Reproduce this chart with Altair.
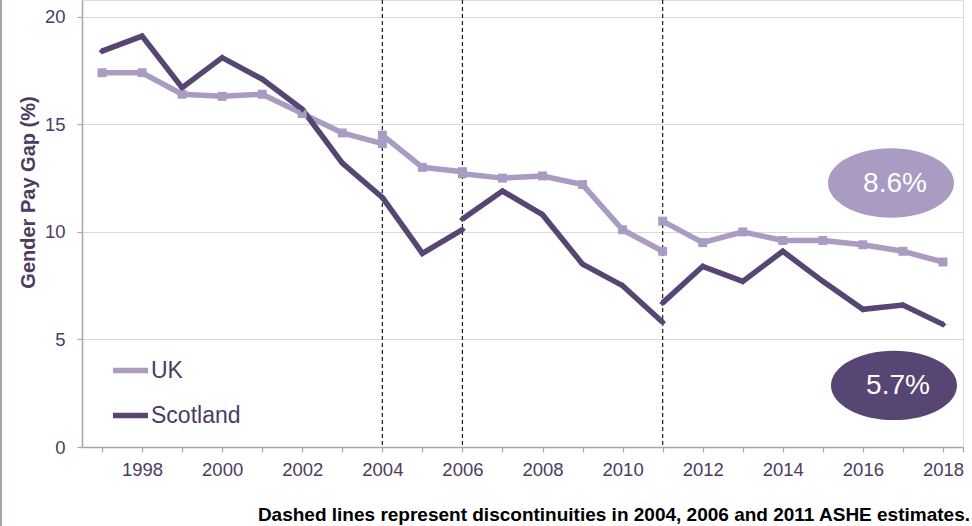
import altair as alt
import pandas as pd

# Median full-time gender pay gap (%), UK vs Scotland
years = list(range(1997, 2019))

uk = [17.4, 17.4, 16.4, 16.3, 16.4, 15.5, 14.6, 14.5, 13.0, 12.7,
      12.5, 12.6, 12.2, 10.1, 10.5, 9.5, 10.0, 9.6, 9.6, 9.4, 9.1, 8.6]
scotland = [18.4, 19.1, 16.7, 18.1, 17.1, 15.7, 13.2, 11.6, 9.0, 10.6,
            11.9, 10.8, 8.5, 7.5, 6.7, 8.4, 7.7, 9.1, 7.7, 6.4, 6.6, 5.7]

# Values on the old basis in the years where the ASHE series breaks
break_years = [2004, 2006, 2011]
uk_before_break = [14.1, 12.8, 9.1]
scotland_before_break = [11.6, 10.1, 5.8]

series_names = ["UK", "Scotland"]
series_colors = ["#a99bc1", "#574573"]
text_color = "#4b3c62"
axis_grey = "#a6a6a6"
note_text = "Dashed lines represent discontinuities in 2004, 2006 and 2011 ASHE estimates."
FONT = "Liberation Sans"


def build_rows(name, values, before):
    rows = []
    segment = 0
    old = dict(zip(break_years, before))
    for yr, val in zip(years, values):
        if yr in old:
            rows.append({"series": name, "year": yr, "gap": old[yr], "segment": segment})
            segment += 1
        rows.append({"series": name, "year": yr, "gap": val, "segment": segment})
    return rows


df = pd.DataFrame(build_rows("UK", uk, uk_before_break)
                  + build_rows("Scotland", scotland, scotland_before_break))
df["key"] = df["series"] + "-" + df["segment"].astype(str)

breaks_df = pd.DataFrame({"year": break_years})
last_df = pd.DataFrame({
    "series": series_names,
    "year": [years[-1], years[-1]],
    "gap": [uk[-1], scotland[-1]],
})
last_df["label"] = last_df["gap"].map(lambda v: f"{v}%")

x_scale = alt.Scale(domain=[1996.5, 2018.5], nice=False, zero=False)
y_scale = alt.Scale(domain=[0, 20.78], nice=False, zero=True)
color_scale = alt.Scale(domain=series_names, range=series_colors)

x_axis = alt.Axis(
    values=years + [2018.5],
    labelExpr="datum.value % 2 == 0 ? datum.value : ''",
    title=None, grid=False,
    domainColor=axis_grey, domainWidth=1.5,
    tickColor=axis_grey, tickSize=5, tickWidth=1.2,
    labelFont=FONT, labelFontSize=18.5, labelColor=text_color, labelPadding=8,
    labelOverlap=False, labelFlush=False,
)
y_axis = alt.Axis(
    values=[0, 5, 10, 15, 20],
    title="Gender Pay Gap (%)",
    titleFont=FONT, titleFontSize=20, titleFontWeight="bold", titleColor=text_color,
    titleAngle=270, titleX=-54, titleY=192, titleAlign="center", titleBaseline="middle",
    grid=True, gridColor="#d9d9d9", gridWidth=1.2,
    domainColor=axis_grey, domainWidth=1.5,
    tickColor=axis_grey, tickSize=5, tickWidth=1.2,
    labelFont=FONT, labelFontSize=18.5, labelColor=text_color, labelPadding=12,
)

base = alt.Chart(df)

lines = base.mark_line(strokeWidth=5.5, strokeJoin="miter").encode(
    x=alt.X("year:Q", scale=x_scale, axis=x_axis),
    y=alt.Y("gap:Q", scale=y_scale, axis=y_axis),
    color=alt.Color(
        "series:N", scale=color_scale,
        legend=alt.Legend(
            title=None, orient="none", legendX=28, legendY=350,
            direction="vertical", symbolType="stroke", symbolStrokeWidth=5.5,
            symbolSize=1225, labelFont=FONT, labelFontSize=23,
            labelColor=text_color, rowPadding=12, labelOffset=0, padding=0,
        ),
    ),
    detail="key:N",
    order="year:Q",
)

uk_points = base.transform_filter(alt.datum.series == "UK").mark_point(
    shape="square", filled=True, size=80, opacity=1
).encode(
    x=alt.X("year:Q", scale=x_scale),
    y=alt.Y("gap:Q", scale=y_scale),
    color=alt.Color("series:N", scale=color_scale, legend=None),
)

scot_points = base.transform_filter(alt.datum.series == "Scotland").mark_point(
    shape="diamond", filled=True, size=45, opacity=1
).encode(
    x=alt.X("year:Q", scale=x_scale),
    y=alt.Y("gap:Q", scale=y_scale),
    color=alt.Color("series:N", scale=color_scale, legend=None),
)

dashed = alt.Chart(breaks_df).mark_rule(
    color="#1a1a1a", strokeWidth=1.2, strokeDash=[4, 3]
).encode(x=alt.X("year:Q", scale=x_scale))

# Ellipse call-outs holding the latest values
ellipse_path = ("M 1 0 C 1 0.3038 0.5523 0.55 0 0.55 C -0.5523 0.55 -1 0.3038 -1 0 "
                "C -1 -0.3038 -0.5523 -0.55 0 -0.55 C 0.5523 -0.55 1 -0.3038 1 0 Z")
offsets = {"UK": (-52, -79), "Scotland": (-49, 61)}

callouts = []
for name in series_names:
    dx, dy = offsets[name]
    sub = alt.Chart(last_df).transform_filter(alt.datum.series == name)
    callouts.append(sub.mark_point(
        shape=ellipse_path, filled=True, size=15876, opacity=1,
        xOffset=dx, yOffset=dy,
    ).encode(
        x=alt.X("year:Q", scale=x_scale),
        y=alt.Y("gap:Q", scale=y_scale),
        color=alt.Color("series:N", scale=color_scale, legend=None),
    ))
    callouts.append(sub.mark_text(
        font=FONT, fontSize=28, color="white", align="center", baseline="middle",
        xOffset=dx + 4, yOffset=dy + 1,
    ).encode(
        x=alt.X("year:Q", scale=x_scale),
        y=alt.Y("gap:Q", scale=y_scale),
        text="label:N",
    ))

note = alt.Chart(pd.DataFrame({"note": [note_text]})).mark_text(
    font=FONT, fontSize=19, fontWeight="bold", color="black",
    align="right", baseline="alphabetic",
).encode(x=alt.value(888), y=alt.value(521), text="note:N")

frame = alt.Chart(pd.DataFrame({"note": [note_text]})).mark_rule(
    color="#8c8099", strokeWidth=1.5
).encode(x=alt.value(-81), y=alt.value(0), y2=alt.value(526))

chart = alt.layer(
    dashed, lines, uk_points, scot_points, *callouts, note, frame
).properties(
    width=881, height=447,
    padding={"left": 82, "top": 0, "right": 9, "bottom": 79},
    autosize=alt.AutoSizeParams(type="none"),
).configure_view(stroke=None).configure(background="white")

chart.save("out.html", embed_options={"renderer": "svg", "actions": False})
